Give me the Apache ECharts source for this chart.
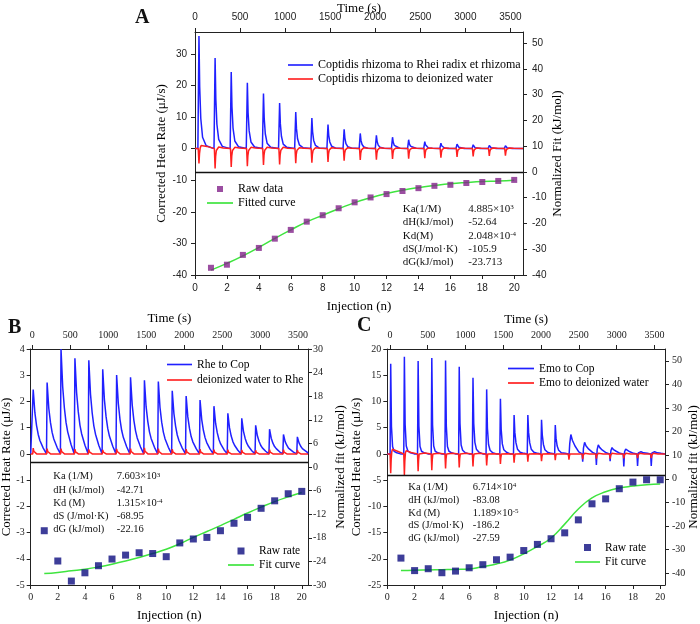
<!DOCTYPE html>
<html><head><meta charset="utf-8">
<script src="https://cdn.jsdelivr.net/npm/echarts@6/dist/echarts.min.js"></script>
<style>html,body{margin:0;padding:0;background:#fff}#c{width:700px;height:624px}</style>
</head><body><div id="c"></div>
<script>
// ---------------- data ----------------
const injections = [1,2,3,4,5,6,7,8,9,10,11,12,13,14,15,16,17,18,19,20];
const timeTicks = [0,500,1000,1500,2000,2500,3000,3500];
const injTicks = [0,2,4,6,8,10,12,14,16,18,20];
const aLeftTicks = [-40,-30,-20,-10,0,10,20,30];
const aRightTicks = [-40,-30,-20,-10,0,10,20,30,40,50];
const bLeftTicks = [-5,-4,-3,-2,-1,0,1,2,3,4];
const bRightTicks = [-30,-24,-18,-12,-6,0,6,12,18,24,30];
const cLeftTicks = [-25,-20,-15,-10,-5,0,5,10,15,20];
const cRightTicks = [-40,-30,-20,-10,0,10,20,30,40,50];

// injection times (s)
const timesA = [44,223,402,581,760,939,1118,1297,1476,1655,1834,2013,2192,2371,2550,2729,2908,3087,3266,3445];
const timesB = [13,196,379,562,745,928,1111,1294,1477,1660,1843,2026,2209,2392,2575,2758,2941,3124,3307,3490];
const timesC = [10,191,373,554,736,917,1099,1280,1462,1643,1825,2006,2188,2369,2551,2732,2914,3095,3277,3458];

// Panel A heat-rate traces: sample offsets (s) after each injection, and read values (uJ/s)
const offBlueA = [-12,0,8,20,40,80];
const blueA = [
 [0,35.6,19.6,9.6,3.6,0.9],[0,28.7,15.8,7.7,2.9,0.7],[0,24.2,13.3,6.5,2.4,0.6],[0,20.8,11.4,5.6,2.1,0.5],
 [0,17.4,9.6,4.7,1.7,0.4],[0,14.4,7.9,3.9,1.4,0.4],[0,11.6,6.4,3.1,1.2,0.3],[0,9.7,5.3,2.6,1.0,0.2],
 [0,7.6,4.2,2.1,0.8,0.2],[0,6.1,3.4,1.6,0.6,0.2],[0,4.8,2.6,1.3,0.5,0.1],[0,4.2,2.3,1.1,0.4,0.1],
 [0,3.6,2.0,1.0,0.4,0.1],[0,2.8,1.5,0.8,0.3,0.1],[0,2.2,1.2,0.6,0.2,0.1],[0,1.7,0.9,0.5,0.2,0],
 [0,1.4,0.8,0.4,0.1,0],[0,1.2,0.7,0.3,0.1,0],[0,1.0,0.6,0.3,0.1,0],[0,0.9,0.5,0.2,0.1,0]];
const offRedA = [-8,0,6,14,24,40,90];
const redA = [
 [0,-4.7,-1.6,0.2,1.0,1.3,0.7],[0,-6.3,-2.5,-0.6,0,0.5,0.2],[0,-5.8,-2.3,-0.6,0,0.4,0.2],[0,-5.6,-2.2,-0.6,0,0.4,0.2],
 [0,-5.2,-2.1,-0.5,0,0.4,0.2],[0,-5.0,-2.0,-0.5,0,0.4,0.1],[0,-4.6,-1.8,-0.5,0,0.3,0.1],[0,-4.5,-1.8,-0.5,0,0.3,0.1],
 [0,-4.2,-1.7,-0.4,0,0.3,0.1],[0,-3.8,-1.5,-0.4,0,0.3,0.1],[0,-3.6,-1.4,-0.4,0,0.3,0.1],[0,-3.5,-1.4,-0.4,0,0.3,0.1],
 [0,-3.3,-1.3,-0.3,0,0.2,0.1],[0,-3.2,-1.3,-0.3,0,0.2,0.1],[0,-3.0,-1.2,-0.3,0,0.2,0.1],[0,-2.9,-1.2,-0.3,0,0.2,0.1],
 [0,-2.6,-1.0,-0.3,0,0.2,0.1],[0,-2.5,-1.0,-0.3,0,0.2,0.1],[0,-2.3,-0.9,-0.2,0,0.2,0.1],[0,-2.2,-0.9,-0.2,0,0.2,0.1]];
const rawA = [-37.2,-36.0,-32.2,-29.5,-25.9,-22.5,-19.3,-16.8,-14.1,-11.8,-9.9,-8.6,-7.4,-6.3,-5.4,-5.0,-4.3,-3.9,-3.5,-3.1];
const fitA = [-38.1,-35.5,-32.6,-29.3,-25.8,-22.5,-19.4,-16.8,-14.3,-11.9,-10.0,-8.4,-7.1,-6.1,-5.3,-4.6,-4.1,-3.7,-3.5,-3.2];

// Panel B
const offBlueB = [-8,0,22,44,66,88,132];
const blueB = [
 [0,2.45,1.57,1.08,0.74,0.51,0.22],[0,2.72,1.74,1.20,0.82,0.57,0.24],[0,4.00,2.56,1.76,1.20,0.84,0.36],[0,3.65,2.34,1.61,1.10,0.77,0.33],
 [0,3.57,2.28,1.57,1.07,0.75,0.32],[0,3.23,2.07,1.42,0.97,0.68,0.29],[0,3.01,1.93,1.32,0.90,0.63,0.27],[0,2.92,1.87,1.28,0.88,0.61,0.26],
 [0,2.81,1.80,1.24,0.84,0.59,0.25],[0,2.76,1.77,1.21,0.83,0.58,0.25],[0,2.41,1.54,1.06,0.72,0.51,0.22],[0,2.21,1.41,0.97,0.66,0.46,0.20],
 [0,2.05,1.31,0.90,0.62,0.43,0.18],[0,1.82,1.16,0.80,0.55,0.38,0.16],[0,1.55,0.99,0.68,0.47,0.33,0.14],[0,1.36,0.87,0.60,0.41,0.29,0.12],
 [0,1.09,0.70,0.48,0.33,0.23,0.10],[0,0.94,0.60,0.41,0.28,0.20,0.08],[0,0.74,0.47,0.33,0.22,0.16,0.07],[0,0.65,0.42,0.29,0.20,0.14,0.06]];
const offRedB = [-6,0,8,20,45];
const redB = [
 [0,0.22,0.10,0.03,0],[0,0.20,0.09,0.03,0],[0,0.20,0.09,0.03,0],[0,0.18,0.08,0.03,0],[0,0.17,0.08,0.03,0],
 [0,0.15,0.07,0.02,0],[0,0.19,0.09,0.03,0],[0,0.20,0.09,0.03,0],[0,0.23,0.10,0.03,0],[0,0.20,0.09,0.03,0],
 [0,0.18,0.08,0.03,0],[0,0.18,0.08,0.03,0],[0,0.18,0.08,0.03,0],[0,0.16,0.07,0.02,0],[0,0.16,0.07,0.02,0],
 [0,0.15,0.07,0.02,0],[0,0.14,0.06,0.02,0],[0,0.16,0.07,0.02,0],[0,0.16,0.07,0.02,0],[0,0.15,0.07,0.02,0]];
const rawB = [-16.2,-23.9,-29.0,-26.9,-25.1,-23.4,-22.4,-21.8,-22.0,-22.8,-19.3,-18.3,-17.9,-16.2,-14.3,-12.8,-10.5,-8.6,-6.8,-6.2];
const fitB = [-27.1,-26.8,-26.4,-26.0,-25.4,-24.7,-23.9,-23.0,-22.0,-20.9,-19.5,-17.9,-16.4,-14.9,-13.3,-11.7,-10.2,-8.8,-7.6,-6.5];

// Panel C
const offBlueC = [-8,0,10,25,45,80,130];
const blueC = [
 [0,17.2,5.2,1.4,0.5,0.2,0],[0,18.5,5.6,1.5,0.6,0.2,0],[0,17.7,5.3,1.4,0.5,0.2,0],[0,18.3,5.5,1.5,0.5,0.2,0],
 [0,17.8,5.3,1.4,0.5,0.2,0],[0,16.6,5.8,1.7,0.7,0.2,0],[0,14.5,5.8,2.2,0.9,0.3,0],[0,12.3,4.9,1.8,0.7,0.2,0],
 [0,10.5,4.7,1.9,0.8,0.3,0],[0,7.4,4.1,2.1,0.9,0.3,0.1],[0,7.4,4.1,2.1,0.9,0.3,0.1],[0,6.5,3.6,1.8,0.8,0.3,0.1],
 [0,5.5,3.0,1.5,0.7,0.2,0.1],[0,-0.6,1.9,3.7,2.6,1.5,0.4],[0,-1.5,1.1,2.2,1.5,0.9,0.3],[0,-2.1,0.8,1.7,1.2,0.7,0.2],
 [0,-1.4,0.6,1.2,0.8,0.5,0.1],[0,-2.4,0.4,0.9,0.6,0.4,0.1],[0,-2.3,0.2,0.5,0.4,0.2,0.1],[0,-2.3,0.2,0.5,0.4,0.2,0.1]];
const offRedC = [-8,0,6,14,24,40,90];
const redC = [
 [0,-3.7,-1.2,0.4,0.9,0.8,0.5],[0,-4.0,-1.4,0.2,0.6,0.5,0.25],[0,-3.3,-1.2,0,0.35,0.3,0.15],[0,-3.1,-1.1,0,0.25,0.2,0.1],
 [0,-2.8,-1.0,0,0.25,0.2,0.1],[0,-2.6,-0.9,0,0.2,0.2,0.1],[0,-2.4,-0.8,0,0.2,0.2,0.1],[0,-2.2,-0.8,0,0.2,0.15,0.05],
 [0,-1.9,-0.7,0,0.2,0.15,0.05],[0,-1.7,-0.6,0,0.15,0.1,0.05],[0,-1.5,-0.5,0,0.15,0.1,0.05],[0,-1.4,-0.5,0,0.15,0.1,0.05],
 [0,-1.2,-0.4,0,0.1,0.1,0],[0,-1.1,-0.4,0,0.1,0.1,0],[0,-1.0,-0.3,0,0.1,0.1,0],[0,-0.9,-0.3,0,0.1,0.1,0],
 [0,-0.9,-0.3,0,0.1,0.1,0],[0,-0.85,-0.3,0,0.1,0.1,0],[0,-0.8,-0.3,0,0.1,0.1,0],[0,-0.8,-0.3,0,0.1,0.1,0]];
const rawC = [-33.6,-38.9,-38.1,-39.8,-39.1,-37.7,-36.4,-34.3,-33.2,-30.4,-27.8,-25.4,-22.9,-17.4,-10.6,-8.5,-4.2,-1.4,-0.4,-0.4];
const fitC = [-38.9,-38.7,-38.6,-38.5,-38.4,-38.2,-37.2,-36.1,-34.4,-31.8,-28.7,-25.1,-19.2,-12.8,-8.1,-5.5,-3.9,-3.1,-2.5,-2.2];

// Thermodynamic parameter tables
const statLabelsA = ['Ka(1/M)','dH(kJ/mol)','Kd(M)','dS(J/mol\u00b7K)','dG(kJ/mol)'];
const statValuesA = ['4.885\u00d710{s|3}','-52.64','2.048\u00d710{s|-4}','-105.9','-23.713'];
const statLabelsB = ['Ka (1/M)','dH (kJ/mol)','Kd (M)','dS (J/mol\u00b7K)','dG (kJ/mol)'];
const statValuesB = ['7.603\u00d710{s|3}','-42.71','1.315\u00d710{s|-4}','-68.95','-22.16'];
const statLabelsC = ['Ka (1/M)','dH (kJ/mol)','Kd (M)','dS (J/mol\u00b7K)','dG (kJ/mol)'];
const statValuesC = ['6.714\u00d710{s|4}','-83.08','1.189\u00d710{s|-5}','-186.2','-27.59'];

// ---------------- chart ----------------
const SERIF = '"Liberation Serif","Times New Roman",serif';
const SANS = '"Liberation Sans",Arial,sans-serif';
const AX = '#222';
const BLUE = '#2020ff', RED = '#ff2020', GREEN = '#3fe43f';
const LINE_ICON = 'path://M0,0h26v1.7h-26z';
const SQUARE_ICON = 'path://M0,0h10v10h-10z';

function trace(times, offs, rows, start, end) {
  const pts = [[start, 0]];
  for (let i = 0; i < times.length; i++)
    for (let j = 0; j < offs.length; j++) pts.push([times[i] + offs[j], rows[i][j]]);
  pts.push([end, 0]);
  return pts;
}
const pairs = (xs, ys) => xs.map((x, i) => [x, ys[i]]);

function axis(o) {
  return {
    gridIndex: o.g, type: 'value', position: o.pos, min: o.min, max: o.max,
    name: o.name, nameLocation: 'middle', nameGap: o.nameGap, nameMoveOverlap: false,
    nameRotate: o.nameRotate,
    nameTextStyle: {fontFamily: SERIF, fontSize: 13, color: '#000'},
    axisLine: {show: true, onZero: false, lineStyle: {color: AX, width: 1}},
    axisTick: {show: true, customValues: o.ticks, length: 4, lineStyle: {color: AX, width: 1}},
    axisLabel: {show: true, customValues: o.ticks, margin: o.margin, fontFamily: o.font, fontSize: 10, color: '#222',
      formatter: v => String(v)},
    splitLine: {show: false}
  };
}

const grid = [
  {left: 195, right: 177, top: 32, bottom: 349, outerBoundsMode: 'none', containLabel: false},
  {left: 30.7, right: 392, top: 349, bottom: 39, outerBoundsMode: 'none', containLabel: false},
  {left: 387.3, right: 35, top: 349, bottom: 39, outerBoundsMode: 'none', containLabel: false}
];

const xAxis = [
  axis({g:0,pos:'top',min:0,max:3640,name:'Time (s)',nameGap:17,ticks:timeTicks,margin:10,font:SANS}),
  axis({g:0,pos:'bottom',min:0,max:20.55,name:'Injection (n)',nameGap:25,ticks:injTicks,margin:8,font:SANS}),
  axis({g:1,pos:'top',min:-20,max:3630,name:'Time (s)',nameGap:24,ticks:timeTicks,margin:9,font:SERIF}),
  axis({g:1,pos:'bottom',min:0,max:20.46,name:'Injection (n)',nameGap:24,ticks:injTicks,margin:7,font:SERIF}),
  axis({g:2,pos:'top',min:-35,max:3640,name:'Time (s)',nameGap:23,ticks:timeTicks,margin:9,font:SERIF}),
  axis({g:2,pos:'bottom',min:0,max:20.35,name:'Injection (n)',nameGap:24,ticks:injTicks,margin:7,font:SERIF})
];
const yAxis = [
  axis({g:0,pos:'left',min:-40,max:36.9,name:'Corrected Heat Rate (\u03bcJ/s)',nameGap:27,ticks:aLeftTicks,margin:8,font:SANS}),
  axis({g:0,pos:'right',min:-40,max:54.3,name:'Normalized Fit (kJ/mol)',nameGap:28,nameRotate:90,ticks:aRightTicks,margin:9,font:SANS}),
  axis({g:1,pos:'left',min:-5,max:4,name:'Corrected Heat Rate (\u03bcJ/s)',nameGap:18,ticks:bLeftTicks,margin:6,font:SERIF}),
  axis({g:1,pos:'right',min:-30,max:30,name:'Normalized fit (kJ/mol)',nameGap:26,nameRotate:90,ticks:bRightTicks,margin:5,font:SERIF}),
  axis({g:2,pos:'left',min:-25,max:20,name:'Corrected Heat Rate (\u03bcJ/s)',nameGap:24,ticks:cLeftTicks,margin:6,font:SERIF}),
  axis({g:2,pos:'right',min:-45,max:55,name:'Normalized fit (kJ/mol)',nameGap:22,nameRotate:90,ticks:cRightTicks,margin:7,font:SERIF})
];

function divider(v) {
  return {silent: true, symbol: 'none', label: {show: false}, animation: false,
    lineStyle: {color: '#111', width: 1.3, type: 'solid'}, data: [{yAxis: v}]};
}
function lineS(name, xi, yi, data, color, extra) {
  return Object.assign({name, type: 'line', xAxisIndex: xi, yAxisIndex: yi, data,
    symbol: 'none', showSymbol: false, lineStyle: {color, width: 1.5}, itemStyle: {color}, z: 2}, extra || {});
}
function scat(name, xi, yi, data, color, size) {
  return {name, type: 'scatter', xAxisIndex: xi, yAxisIndex: yi, data, symbol: 'rect', symbolSize: size,
    itemStyle: {color}, z: 5};
}

const series = [
  lineS('Coptidis rhizoma to Rhei radix et rhizoma', 0, 0, trace(timesA, offBlueA, blueA, 0, 3640), BLUE),
  lineS('Coptidis rhizoma to deionized water', 0, 0, trace(timesA, offRedA, redA, 0, 3640), RED, {z: 3}),
  lineS('Fitted curve', 1, 1, pairs(injections, fitA), GREEN, {smooth: true, z: 4, markLine: divider(0)}),
  scat('Raw data', 1, 1, pairs(injections, rawA), '#82228a', 6),

  lineS('Rhe to Cop', 2, 2, trace(timesB, offBlueB, blueB, -20, 3630), BLUE),
  lineS('deionized water to Rhe', 2, 2, trace(timesB, offRedB, redB, -20, 3630), RED, {z: 3}),
  lineS('Fit curve', 3, 3, pairs(injections, fitB), GREEN, {smooth: true, z: 4, markLine: divider(1.3)}),
  scat('Raw rate', 3, 3, pairs(injections, rawB), '#0c0c80', 7),

  lineS('Emo to Cop', 4, 4, trace(timesC, offBlueC, blueC, -35, 3640), BLUE),
  lineS('Emo to deionized water', 4, 4, trace(timesC, offRedC, redC, -35, 3640), RED, {z: 3}),
  lineS('Fit curve', 5, 5, pairs(injections, fitC), GREEN, {smooth: true, z: 4, markLine: divider(1.4)}),
  scat('Raw rate', 5, 5, pairs(injections, rawC), '#0c0c80', 7)
];

function li(name) { return {name, icon: LINE_ICON}; }
function sq(name) { return {name, icon: SQUARE_ICON}; }
function leg(data, left, top, iw, ih, gap, fs) {
  return {data, left, top, orient: 'vertical', itemWidth: iw, itemHeight: ih, itemGap: gap,
    selectedMode: false, padding: 0, symbolKeepAspect: true,
    textStyle: {fontFamily: SERIF, fontSize: fs, color: '#000'}};
}
const legend = [
  leg([li('Coptidis rhizoma to Rhei radix et rhizoma'), li('Coptidis rhizoma to deionized water')], 288, 59, 25, 10, 2, 12),
  leg([sq('Raw data'), li('Fitted curve')], 207, 183, 26, 6, 2, 12),
  leg([li('Rhe to Cop'), li('deionized water to Rhe')], 167, 358.5, 25, 10, 3.5, 11.5),
  leg([sq('Raw rate'), li('Fit curve')], 228, 545, 26, 7, 2, 11.5),
  leg([li('Emo to Cop'), li('Emo to deionized water')], 508, 362.5, 26, 10, 2.5, 11.5),
  leg([sq('Raw rate'), li('Fit curve')], 575, 541.5, 25, 7, 2.5, 11.5)
];

function txt(x, y, text, size, bold) {
  return {type: 'text', x, y, silent: true, z: 100,
    style: {text, fill: '#111', font: (bold ? 'bold ' : '') + size + 'px ' + SERIF,
      fontFamily: SERIF, fontSize: size, fontWeight: bold ? 'bold' : 'normal',
      align: 'left', verticalAlign: 'middle', textAlign: 'left', textVerticalAlign: 'middle',
      rich: {s: {fontSize: Math.round(size * 0.62), fontFamily: SERIF, font: Math.round(size * 0.62) + 'px ' + SERIF, verticalAlign: 'top', fill: '#111'}}}};
}
const graphic = [txt(135, 18, 'A', 20, true), txt(8, 328, 'B', 20, true), txt(357, 326, 'C', 20, true)];
function stats(labels, values, x1, x2, y0, dy, size) {
  labels.forEach((l, i) => {
    graphic.push(txt(x1, y0 + dy * i, l, size));
    graphic.push(txt(x2, y0 + dy * i, values[i], size));
  });
}
stats(statLabelsA, statValuesA, 402.7, 468.3, 209.3, 13.25, 11);
stats(statLabelsB, statValuesB, 53.3, 116.7, 476.7, 13.15, 10.5);
stats(statLabelsC, statValuesC, 408.3, 472.7, 487.3, 12.75, 10.5);

const chart = echarts.init(document.getElementById('c'), null, {renderer: 'canvas'});
chart.setOption({animation: false, backgroundColor: '#fff', grid, xAxis, yAxis, series, legend, graphic, tooltip: {show: false}});
</script></body></html>
